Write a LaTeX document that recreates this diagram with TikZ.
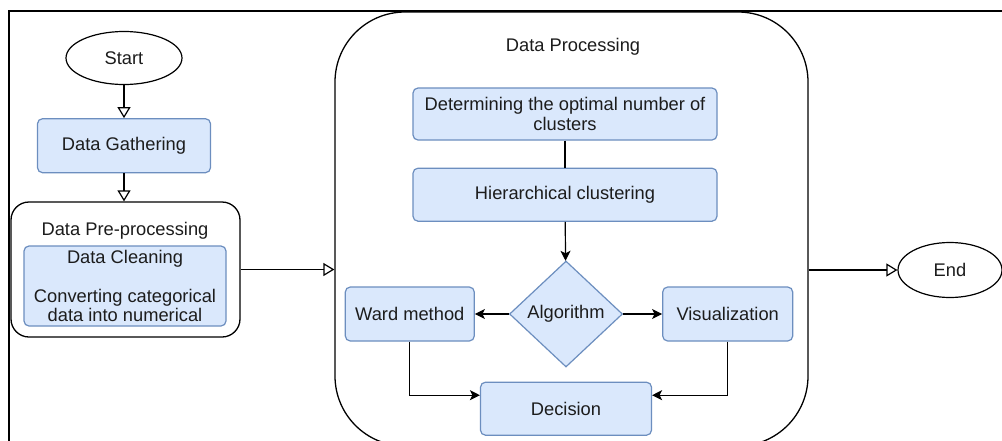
\documentclass[tikz,border=0pt]{standalone}
\usepackage{fontspec}
\setmainfont{Liberation Sans}
\usepackage{xcolor}
\usepackage{tikz}
\usetikzlibrary{arrows.meta,positioning,calc,shapes.geometric}
\definecolor{BoxFill}{HTML}{DAE8FC}
\definecolor{BoxLine}{HTML}{6C8EBF}
\definecolor{Ink}{HTML}{1C1C1C}

\begin{document}
\begin{tikzpicture}[x=1pt,y=-1pt,
  every node/.style={font=\fontsize{18.3}{19.5}\selectfont,text=Ink},
  term/.style={ellipse,draw,line width=1.2pt,fill=white,inner sep=0pt},
  proc/.style={rounded corners=5pt,draw=BoxLine,line width=1.2pt,fill=BoxFill,align=center,inner sep=0pt},
  group/.style={draw,line width=1.3pt,fill=white,inner sep=0pt},
  openarr/.style={-{Triangle[open,length=11pt,width=13pt]},line width=1.2pt},
  arr/.style={-{Stealth[length=10pt,width=10pt,inset=2.5pt]},line width=1.2pt},
  pageframe/.style={line width=2pt}
]
\useasboundingbox (0,0) rectangle (1002,440);
\clip (0,0) rectangle (1002,440);
\draw[pageframe] (1010,11) -- (9,11) -- (9,450);
\node[term,minimum width=116pt,minimum height=53pt] (start) at (124,58) {Start};
\node[proc,below=33pt of start,minimum width=173pt,minimum height=54pt] (gather) {Data Gathering};
\node[group,rounded corners=18pt,minimum width=229pt,minimum height=135pt] (pre) at (125.5,269.5) {};
\node (pretitle) at (125,231) {Data Pre-processing};
\node[proc,minimum width=202pt,minimum height=80pt] (clean) at (125,286) {Data Cleaning\\ \\Converting categorical\\data into numerical};
\node[group,rounded corners=70pt,minimum width=473pt,minimum height=434pt] (dproc) at (571.5,229) {};
\node (proctitle) at (573,47) {Data Processing};
\node[proc,minimum width=304pt,minimum height=52pt] (optk) at (565,114) {Determining the optimal number of\\clusters};
\node[proc,below=27pt of optk,minimum width=304pt,minimum height=53pt] (hier) {Hierarchical clustering};
\node[diamond,draw=BoxLine,line width=1.2pt,fill=BoxFill,inner sep=0pt,minimum width=113pt,minimum height=106pt] (algo) at (566,314) {Algorithm};
\node[proc,left=34pt of algo,minimum width=129pt,minimum height=54pt] (ward) {Ward method};
\node[proc,right=39pt of algo,minimum width=130pt,minimum height=54pt] (vis) {Visualization};
\node[proc,below=14pt of algo,minimum width=171pt,minimum height=53pt] (decide) {Decision};
\node[term,minimum width=104pt,minimum height=55pt] (stop) at (950,270) {End};
\draw[openarr] (start) -- (gather);
\draw[openarr] (gather.south) -- (gather.south |- pre.north);
\draw[openarr] (pre.east) -- (pre.east -| dproc.west);
\draw[openarr] (dproc.east |- stop.west) -- (stop.west);
\draw[line width=2pt] (optk) -- (hier);
\draw[arr] (hier) -- (algo);
\draw[arr] (algo) -- (ward);
\draw[arr] (algo) -- (vis);
\draw[arr] (ward.south) |- ([yshift=13.5pt]decide.west);
\draw[arr] (vis.south) |- ([yshift=13.5pt]decide.east);
\end{tikzpicture}
\end{document}
